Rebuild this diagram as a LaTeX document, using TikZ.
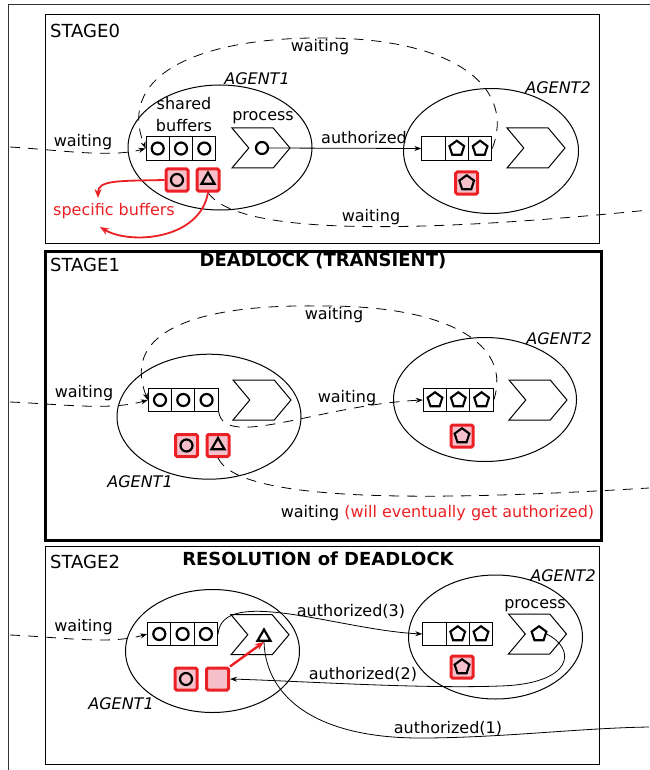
\documentclass[tikz,border=0pt]{standalone}
\usepackage{fontspec}
\setmainfont{DejaVu Sans}[ItalicFont={DejaVu Sans Oblique},BoldFont={DejaVu Sans Bold}]
\usetikzlibrary{shapes.geometric,shapes.symbols,arrows.meta}
\definecolor{myred}{RGB}{235,32,36}
\definecolor{mypink}{RGB}{245,192,202}
\tikzset{
  stagebox/.style={draw, rectangle, anchor=north west, inner sep=0, line width=1.2pt},
  agentell/.style={draw, ellipse, inner sep=0, line width=1pt},
  cellbox/.style={draw, rectangle, minimum size=23.3pt, inner sep=0, line width=1pt},
  specbox/.style={draw=myred, fill=mypink, rectangle, rounded corners=1.5pt, minimum size=22pt, inner sep=0, line width=3pt},
  chev/.style={draw, signal, signal to=east, signal from=west, signal pointer angle=100, minimum width=58pt, minimum height=40pt, inner sep=0, line width=1pt},
  scirc/.style={draw, circle, minimum size=12pt, inner sep=0, line width=2.2pt},
  stri/.style={draw, regular polygon, regular polygon sides=3, minimum size=15pt, inner sep=0, line width=2.2pt},
  spent/.style={draw, regular polygon, regular polygon sides=5, minimum size=15.5pt, inner sep=0, line width=2.1pt},
  lbl/.style={font=\fontsize{16}{19}\selectfont, inner sep=0},
  stl/.style={font=\fontsize{18}{21}\selectfont, anchor=west, inner sep=0},
  ttl/.style={font=\bfseries\fontsize{18}{21}\selectfont, inner sep=0},
  agl/.style={font=\itshape\fontsize{16}{19}\selectfont, inner sep=0},
  conn/.style={line width=0.8pt, -{Stealth[length=7pt,width=5pt]}},
  dconn/.style={line width=0.8pt, dash pattern=on 10pt off 8pt, -{Stealth[length=7pt,width=5pt]}},
  dline/.style={line width=0.8pt, dash pattern=on 10pt off 8pt},
  redarr/.style={draw=myred, line width=1.8pt, -{Stealth[length=9pt,width=7pt]}},
}
\begin{document}
\begin{tikzpicture}[x=1pt,y=-1pt]
\useasboundingbox (0,0) rectangle (649,770);
% outer frame
\draw[line width=0.8pt, black!80] (8,775) -- (8,4) -- (655,4);

%================ STAGE 0 =================
\node[stagebox, minimum width=554pt, minimum height=229pt] (s0) at (45,14) {};
\node[stl] (s0t) at (50,31) {STAGE0};
% agent 1
\node[agentell, minimum width=184pt, minimum height=125pt] (a01) at (220,147.5) {};
\node[agl] (a01l) at (257,79) {AGENT1};
\node[lbl, align=center, font=\fontsize{16}{22}\selectfont] (sb0) at (184,115) {shared\\buffers};
\node[lbl] (pr0) at (263,118) {process};
\node[cellbox] (c01a) at (157.7,148.5) {};
\node[cellbox] (c01b) at (181,148.5) {};
\node[cellbox] (c01c) at (204.3,148.5) {};
\node[scirc] (y01a) at (c01a) {};
\node[scirc] (y01b) at (c01b) {};
\node[scirc] (y01c) at (c01c) {};
\node[chev] (p01) at (261,148) {};
\node[scirc] (y01p) at (262,148) {};
\node[specbox] (r01a) at (177,180) {};
\node[scirc] (y01r) at (r01a) {};
\node[specbox] (r01b) at (208,180) {};
\node[stri] (y01s) at (r01b) {};
% agent 2
\node[agentell, minimum width=175pt, minimum height=125pt] (a02) at (491,151) {};
\node[agl] (a02l) at (558,88) {AGENT2};
\node[cellbox] (c02a) at (433.5,148.5) {};
\node[cellbox] (c02b) at (456.8,148.5) {};
\node[cellbox] (c02c) at (480.1,148.5) {};
\node[spent] (y02b) at (c02b) {};
\node[spent] (y02c) at (c02c) {};
\node[chev] (p02) at (536,148) {};
\node[specbox] (r02a) at (466.7,183) {};
\node[spent] (y02r) at (r02a) {};
% connectors
\draw[conn] (y01p.east) -- (c02a.west);
\node[lbl] (au0) at (364,138) {authorized};
\coordinate (in0) at (10,147);
\draw[dconn] (in0) .. controls (60,150) and (110,158) .. (c01a.west);
\node[lbl] (w0a) at (83,142) {waiting};
\draw[dconn] (c02c.east) .. controls (515,90) and (460,40) .. (330,38) .. controls (210,36) and (115,70) .. (c01a.west);
\node[lbl] (w0b) at (320,47) {waiting};
\coordinate (out0) at (649,210);
\draw[dline] (r01b.south) .. controls (240,240) and (450,230) .. (out0);
\node[lbl] (w0c) at (371,217) {waiting};
\coordinate (sp1) at (98,198);
\coordinate (sp2) at (100,227);
\draw[redarr] (r01a.west) .. controls (118,181) and (98,180) .. (sp1);
\draw[redarr] (r01b.south) .. controls (200,240) and (130,245) .. (sp2);
\node[lbl, text=myred] (spb) at (114,211) {specific buffers};

%================ STAGE 1 =================
\node[stagebox, line width=3pt, minimum width=556pt, minimum height=289pt] (s1) at (44,250) {};
\node[stl] (s1t) at (50,265) {STAGE1};
\node[ttl] (s1h) at (323,261) {DEADLOCK (TRANSIENT)};
% agent 1
\node[agentell, minimum width=184pt, minimum height=125pt] (a11) at (209,416.7) {};
\node[agl] (a11l) at (140,482) {AGENT1};
\node[cellbox] (c11a) at (160,400) {};
\node[cellbox] (c11b) at (183.3,400) {};
\node[cellbox] (c11c) at (206.6,400) {};
\node[scirc] (y11a) at (c11a) {};
\node[scirc] (y11b) at (c11b) {};
\node[scirc] (y11c) at (c11c) {};
\node[chev] (p11) at (262,400) {};
\node[specbox] (r11a) at (186.5,445.5) {};
\node[scirc] (y11r) at (r11a) {};
\node[specbox] (r11b) at (218,445.5) {};
\node[stri] (y11s) at (r11b) {};
% agent 2
\node[agentell, minimum width=183pt, minimum height=124pt] (a12) at (485,399.5) {};
\node[agl] (a12l) at (559,339) {AGENT2};
\node[cellbox] (c12a) at (435,400) {};
\node[cellbox] (c12b) at (458.3,400) {};
\node[cellbox] (c12c) at (481.6,400) {};
\node[spent] (y12a) at (c12a) {};
\node[spent] (y12b) at (c12b) {};
\node[spent] (y12c) at (c12c) {};
\node[chev] (p12) at (538,400) {};
\node[specbox] (r12a) at (462,436) {};
\node[spent] (y12r) at (r12a) {};
% connectors
\coordinate (in1) at (10,402);
\draw[dconn] (in1) .. controls (60,404) and (110,411) .. (c11a.west);
\node[lbl] (w1a) at (84,393) {waiting};
\draw[dconn] (c12c.east) .. controls (512,345) and (450,305) .. (320,306) .. controls (200,304) and (120,330) .. (c11a.west);
\node[lbl] (w1b) at (334,315) {waiting};
\draw[dconn] (c11c.south east) .. controls (225,450) and (320,405) .. (c12a.west);
\node[lbl] (w1c) at (347,398) {waiting};
\coordinate (out1) at (649,488);
\draw[dline] (r11b.south) .. controls (240,505) and (450,500) .. (out1);
\node[lbl] (w1d) at (437.5,513) {waiting \textcolor{myred}{(will eventually get authorized)}};

%================ STAGE 2 =================
\node[stagebox, minimum width=554pt, minimum height=218pt] (s2) at (45,546) {};
\node[stl] (s2t) at (50,562) {STAGE2};
\node[ttl] (s2h) at (318,559) {RESOLUTION of DEADLOCK};
% agent 1
\node[agentell, minimum width=174pt, minimum height=123pt] (a21) at (212.5,651) {};
\node[agl] (a21l) at (121,704) {AGENT1};
\node[cellbox] (c21a) at (159.3,634) {};
\node[cellbox] (c21b) at (182.6,634) {};
\node[cellbox] (c21c) at (205.9,634) {};
\node[scirc] (y21a) at (c21a) {};
\node[scirc] (y21b) at (c21b) {};
\node[scirc] (y21c) at (c21c) {};
\node[chev] (p21) at (260,634.7) {};
\node[stri] (y21p) at (264,637) {};
\node[specbox] (r21a) at (186,679) {};
\node[scirc] (y21r) at (r21a) {};
\node[specbox] (r21b) at (217.5,679) {};
% agent 2
\node[agentell, minimum width=174pt, minimum height=124pt] (a22) at (495.5,637) {};
\node[agl] (a22l) at (563,576) {AGENT2};
\node[lbl] (pr2) at (535,606) {process};
\node[cellbox] (c22a) at (434.4,634) {};
\node[cellbox] (c22b) at (457.7,634) {};
\node[cellbox] (c22c) at (481,634) {};
\node[spent] (y22b) at (c22b) {};
\node[spent] (y22c) at (c22c) {};
\node[chev] (p22) at (537.5,634) {};
\node[spent] (y22p) at (539,634) {};
\node[specbox] (r22a) at (462,667) {};
\node[spent] (y22r) at (r22a) {};
% connectors
\coordinate (in2) at (10,635);
\draw[dconn] (in2) .. controls (60,637) and (110,645) .. (c21a.west);
\node[lbl] (w2a) at (83.5,627) {waiting};
\draw[redarr, line width=2.4pt] (r21b.north east) -- (y21p.south);
\draw[conn] (c21c.east) .. controls (222,585) and (340,630) .. (c22a.west);
\node[lbl] (au3) at (351,611) {authorized(3)};
\draw[conn] (y22p.east) .. controls (578,650) and (572,684) .. (500,686) .. controls (420,689) and (300,681) .. (r21b.east);
\node[lbl] (au2) at (363,674) {authorized(2)};
\coordinate (out2) at (649,727);
\draw[line width=0.8pt] (y21p.south) .. controls (266,700) and (320,738) .. (420,738) .. controls (500,738) and (580,728) .. (out2);
\node[lbl] (au1) at (448,728) {authorized(1)};
\end{tikzpicture}
\end{document}
